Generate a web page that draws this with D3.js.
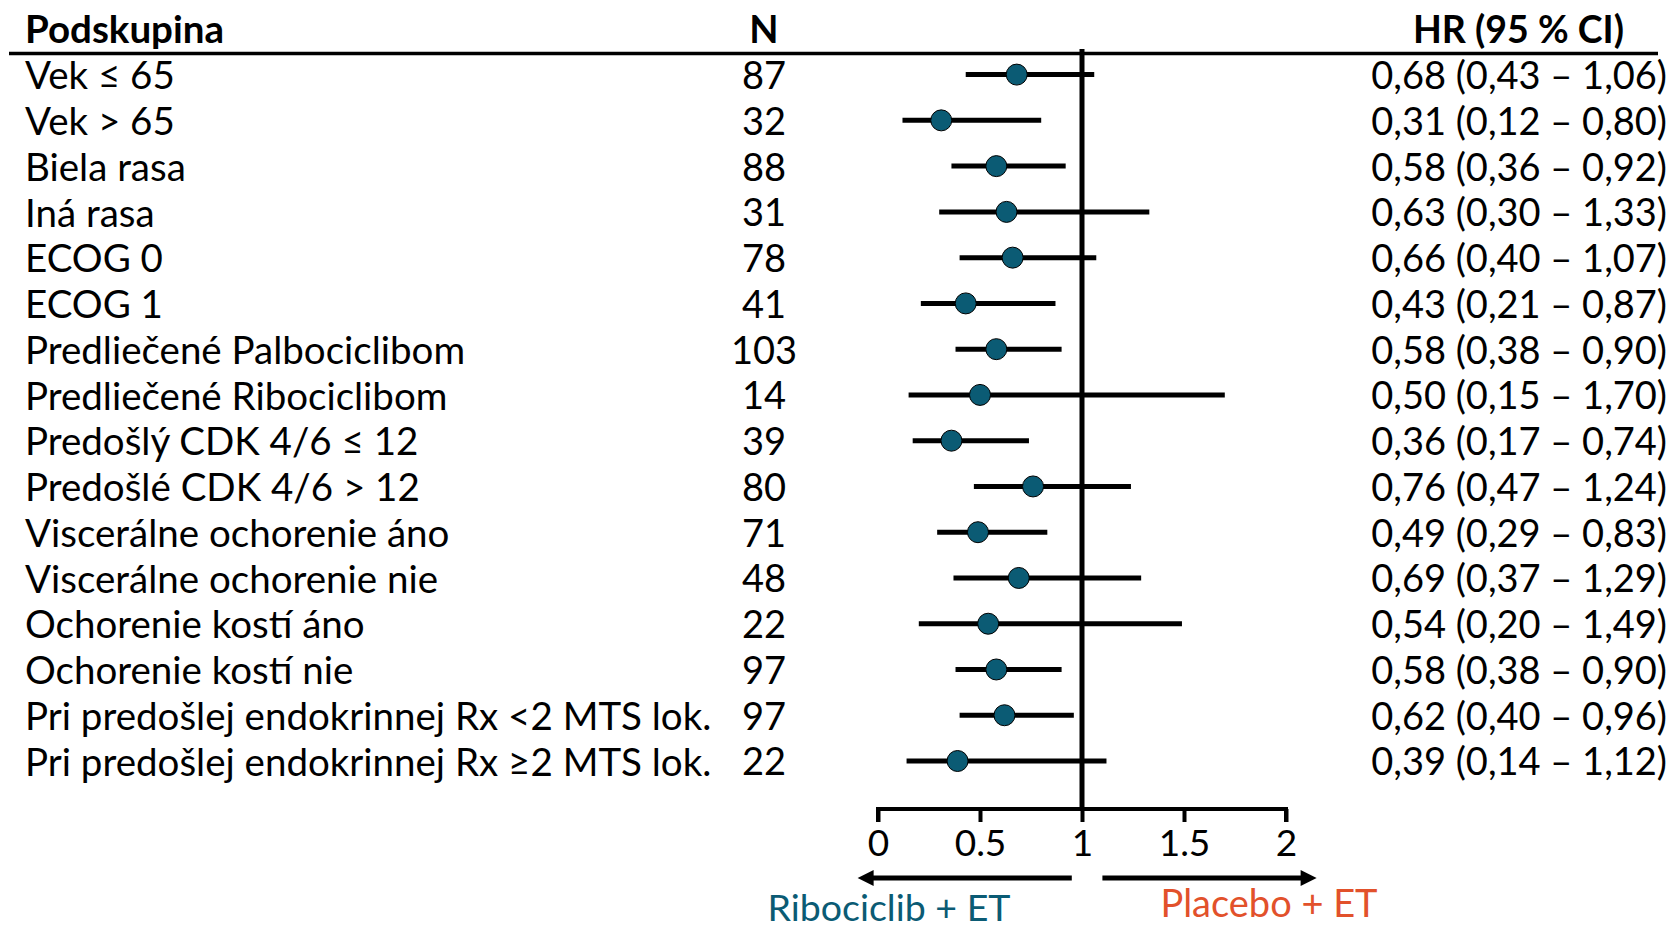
<!DOCTYPE html>
<html>
<head>
<meta charset="utf-8">
<script src="https://cdn.jsdelivr.net/npm/d3@7"></script>
<style>
    body { margin: 0; background: #fff; }
    text { font-family: Lato, "Open Sans", sans-serif; fill: #000; }
</style>
</head>
<body>
<div id="forest"></div>
<script>
// subgroup rows, top to bottom
var subgroups = [
    "Vek ≤ 65", "Vek > 65", "Biela rasa", "Iná rasa", "ECOG 0", "ECOG 1",
    "Predliečené Palbociclibom", "Predliečené Ribociclibom",
    "Predošlý CDK 4/6 ≤ 12", "Predošlé CDK 4/6 > 12",
    "Viscerálne ochorenie áno", "Viscerálne ochorenie nie",
    "Ochorenie kostí áno", "Ochorenie kostí nie",
    "Pri predošlej endokrinnej Rx <2 MTS lok.",
    "Pri predošlej endokrinnej Rx ≥2 MTS lok."
];
var counts = [87, 32, 88, 31, 78, 41, 103, 14, 39, 80, 71, 48, 22, 97, 97, 22];
var hr = [0.68, 0.31, 0.58, 0.63, 0.66, 0.43, 0.58, 0.50, 0.36, 0.76, 0.49, 0.69, 0.54, 0.58, 0.62, 0.39];
var ciLow = [0.43, 0.12, 0.36, 0.30, 0.40, 0.21, 0.38, 0.15, 0.17, 0.47, 0.29, 0.37, 0.20, 0.38, 0.40, 0.14];
var ciHigh = [1.06, 0.80, 0.92, 1.33, 1.07, 0.87, 0.90, 1.70, 0.74, 1.24, 0.83, 1.29, 1.49, 0.90, 0.96, 1.12];
var axisTicks = [0, 0.5, 1, 1.5, 2];
var headers = ["Podskupina", "N", "HR (95 % CI)"];
var favourLabels = ["Ribociclib + ET", "Placebo + ET"];

var teal = "#0b5b74";
var orange = "#e2512b";

function fmt(v) {
    "use strict";
    return d3.format(".2f")(v).replace(".", ",");
}

function drawForest() {
    "use strict";
    var width = 1672, height = 929;
    var svg = d3.select("#forest").append("svg")
        .attr("width", width)
        .attr("height", height);

    var x = d3.scaleLinear().domain([0, 2]).range([878, 1286]);
    var y = d3.scalePoint().domain(d3.range(subgroups.length)).range([74.6, 761]);
    var axisY = 809;

    // header
    svg.append("text").attr("x", 25).attr("y", 43)
        .style("font-size", "38.5px").style("font-weight", "bold")
        .text(headers[0]);
    svg.append("text").attr("x", 764).attr("y", 43)
        .attr("text-anchor", "middle")
        .style("font-size", "38px").style("font-weight", "bold")
        .text(headers[1]);
    svg.append("text").attr("x", 1624).attr("y", 43)
        .attr("text-anchor", "end")
        .style("font-size", "37.5px").style("font-weight", "bold")
        .text(headers[2]);
    svg.append("line")
        .attr("x1", 9).attr("x2", 1658).attr("y1", 53.5).attr("y2", 53.5)
        .attr("stroke", "#000").attr("stroke-width", 3.5);

    // reference line at HR = 1
    svg.append("line")
        .attr("x1", x(1)).attr("x2", x(1)).attr("y1", 49).attr("y2", axisY)
        .attr("stroke", "#000").attr("stroke-width", 5);

    var rows = svg.selectAll("g.row")
        .data(subgroups)
        .enter()
        .append("g")
        .attr("class", "row")
        .attr("transform", function(d, i) { return "translate(0," + y(i) + ")"; });

    rows.append("text")
        .attr("x", 25).attr("dy", "0.38em")
        .style("font-size", "38.5px")
        .text(function(d) { return d; });
    rows.append("text")
        .attr("x", 764).attr("dy", "0.38em")
        .attr("text-anchor", "middle")
        .style("font-size", "38px")
        .text(function(d, i) { return counts[i]; });
    rows.append("text")
        .attr("x", 1667).attr("dy", "0.38em")
        .attr("text-anchor", "end")
        .style("font-size", "38px")
        .text(function(d, i) {
            return fmt(hr[i]) + " (" + fmt(ciLow[i]) + " – " + fmt(ciHigh[i]) + ")";
        });

    // confidence intervals and point estimates
    rows.append("line")
        .attr("x1", function(d, i) { return x(ciLow[i]); })
        .attr("x2", function(d, i) { return x(ciHigh[i]); })
        .attr("stroke", "#000").attr("stroke-width", 5);
    rows.append("circle")
        .attr("cx", function(d, i) { return x(hr[i]); })
        .attr("r", 10.5)
        .attr("fill", teal)
        .attr("stroke", "#000").attr("stroke-width", 1);

    // x axis
    var axis = svg.append("g")
        .attr("transform", "translate(0," + axisY + ")")
        .call(d3.axisBottom(x).tickValues(axisTicks).tickSize(13).tickPadding(8)
            .tickFormat(d3.format("")));
    axis.select(".domain").attr("stroke-width", 4)
        .attr("d", "M" + x(0) + ",13V0H" + x(2) + "V13");
    axis.selectAll(".tick line").attr("stroke-width", 4);
    axis.selectAll(".tick text")
        .style("font-size", "37px")
        .style("font-family", "Lato, 'Open Sans', sans-serif")
        .attr("fill", "#000");

    // favour arrows
    var arrowY = 878;
    var arrows = [[0.95, -0.1], [1.1, 2.15]];
    arrows.forEach(function(a) {
        var x0 = x(a[0]), x1 = x(a[1]);
        var dir = x1 > x0 ? 1 : -1;
        svg.append("line")
            .attr("x1", x0).attr("x2", x1 - dir * 10)
            .attr("y1", arrowY).attr("y2", arrowY)
            .attr("stroke", "#000").attr("stroke-width", 5);
        svg.append("path")
            .attr("d", "M" + x1 + "," + arrowY +
                "L" + (x1 - dir * 16) + "," + (arrowY - 8) +
                "L" + (x1 - dir * 16) + "," + (arrowY + 8) + "Z")
            .attr("fill", "#000");
    });

    svg.append("text").attr("x", 889).attr("y", 921)
        .attr("text-anchor", "middle")
        .style("font-size", "37.5px").style("fill", teal)
        .text(favourLabels[0]);
    svg.append("text").attr("x", 1269).attr("y", 917)
        .attr("text-anchor", "middle")
        .style("font-size", "38px").style("fill", orange)
        .text(favourLabels[1]);
}

drawForest();
</script>
</body>
</html>
